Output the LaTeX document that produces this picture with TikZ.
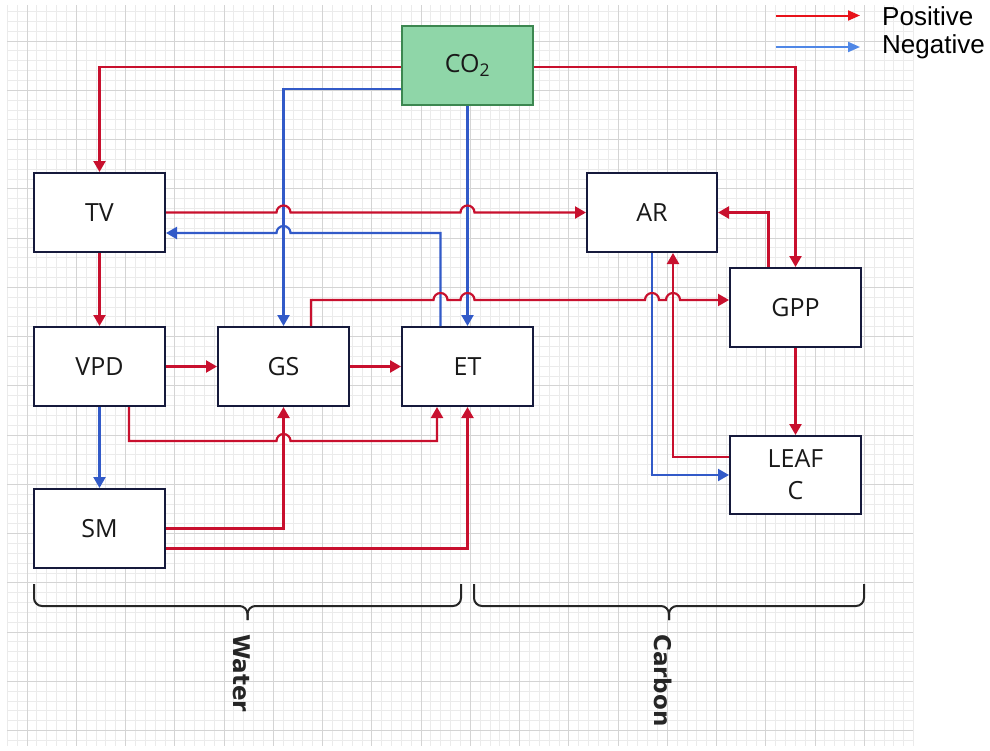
\documentclass[tikz,border=0pt]{standalone}
\usepackage{fontspec}
\setmainfont{Liberation Sans}
\newfontfamily\boxfont{Open Sans}
\newfontfamily\groupfont{DejaVu Sans}
\usetikzlibrary{arrows.meta,positioning}
\definecolor{posred}{RGB}{200,16,46}
\definecolor{negblue}{RGB}{50,90,200}
\definecolor{legred}{RGB}{232,18,26}
\definecolor{legblue}{RGB}{80,135,230}
\definecolor{co2green}{RGB}{143,214,168}
\definecolor{co2edge}{RGB}{60,135,80}
\definecolor{boxedge}{RGB}{22,26,60}
\definecolor{minorgrid}{RGB}{235,235,235}
\definecolor{majorgrid}{RGB}{212,212,212}

\begin{document}
\begin{tikzpicture}[x=1pt,y=-1pt,
    var/.style={draw=boxedge,line width=2pt,fill=white,minimum width=131pt,minimum height=79pt,
                align=center,font=\boxfont\fontsize{25}{32}\selectfont,text=black!90},
    poslink/.style={draw=posred,line width=2.2pt,-{Triangle[length=11pt,width=12pt]}},
    neglink/.style={draw=negblue,line width=2.2pt,-{Triangle[length=11pt,width=12pt]}},
    legpos/.style={draw=legred,line width=2pt,-{Triangle[length=12pt,width=10pt]}},
    legneg/.style={draw=legblue,line width=2pt,-{Triangle[length=12pt,width=10pt]}},
    legtext/.style={anchor=west,inner sep=1pt,font=\fontsize{26}{30}\selectfont},
    bracepath/.style={rounded corners=8pt,line width=2pt,draw=black!85},
    grouplabel/.style={rotate=-90,anchor=west,inner sep=0pt,
                       font=\groupfont\bfseries\fontsize{23}{26}\selectfont,text=black!85}]
  \useasboundingbox[fill=white] (0,0) rectangle (990,750);
  \foreach \i in {-2,...,90}
    \draw[minorgrid,line width=0.8pt] ({27+9.85*\i},5) -- ({27+9.85*\i},746);
  \foreach \j in {-3,...,71}
    \draw[minorgrid,line width=0.8pt] (7,{41+9.85*\j}) -- (913,{41+9.85*\j});
  \foreach \i in {0,5,...,85}
    \draw[majorgrid,line width=1pt] ({27+9.85*\i},5) -- ({27+9.85*\i},746);
  \foreach \j in {0,5,...,70}
    \draw[majorgrid,line width=1pt] (7,{41+9.85*\j}) -- (913,{41+9.85*\j});

  \node[var,fill=co2green,draw=co2edge] (co2) at (467.5,65) {CO\textsubscript{2}};
  \node[var] (tv) at (99.5,212.5) {TV};
  \node[var,below=73pt of tv] (vpd) {VPD};
  \node[var,right=51pt of vpd] (gs) {GS};
  \node[var,right=51pt of gs] (et) {ET};
  \node[var,below=81pt of vpd] (sm) {SM};
  \node[var,minimum width=130pt] (ar) at (652,212.5) {AR};
  \node[var] (gpp) at (795.5,307.5) {GPP};
  \node[var,minimum height=78pt,below=87pt of gpp] (leaf) {LEAF\\C};

  \draw[neglink] ([yshift=-24pt]co2.west) -| (gs.north);
  \draw[neglink] (co2.south) -- (et.north);
  \draw[neglink] ([xshift=-27pt]et.north) |- (290.5,233)
      arc[start angle=0,end angle=180,radius=7pt] -- ([yshift=-20.5pt]tv.east);
  \draw[neglink] (vpd.south) -- (sm.north);
  \draw[neglink] (ar.south) |- (leaf.west);

  \draw[poslink] ([yshift=-2pt]co2.west) -| (tv.north);
  \draw[poslink] ([yshift=-2pt]co2.east) -| (gpp.north);
  \draw[poslink] (tv.east) -- (276.5,212.5) arc[start angle=180,end angle=0,radius=7pt]
      -- (460.5,212.5) arc[start angle=180,end angle=0,radius=7pt] -- (ar.west);
  \draw[poslink] (tv.south) -- (vpd.north);
  \draw[poslink] (vpd.east) -- (gs.west);
  \draw[poslink] (gs.east) -- (et.west);
  \draw[poslink] ([xshift=29.5pt]vpd.south) |- (276.5,441)
      arc[start angle=180,end angle=0,radius=7pt] -| ([xshift=-30.5pt]et.south);
  \draw[poslink] (sm.east) -| (gs.south);
  \draw[poslink] ([yshift=-20pt]sm.east) -| (et.south);
  \draw[poslink] ([xshift=27.5pt]gs.north) |- (433.5,300)
      arc[start angle=180,end angle=0,radius=7pt] -- (460.5,300)
      arc[start angle=180,end angle=0,radius=7pt] -- (645,300)
      arc[start angle=180,end angle=0,radius=7pt] -- (666,300)
      arc[start angle=180,end angle=0,radius=7pt] -- ([yshift=7.5pt]gpp.west);
  \draw[poslink] ([xshift=-27pt]gpp.north) |- (ar.east);
  \draw[poslink] (gpp.south) -- (leaf.north);
  \draw[poslink] ([yshift=18pt]leaf.west) -| ([xshift=21pt]ar.south);

  \node[legtext] (postxt) at (881,16) {Positive};
  \node[legtext] (negtxt) at (881,47) {Negative};
  \coordinate (posfrom) at (776,15.5);
  \coordinate (negfrom) at (776,47);
  \draw[legpos,shorten >=21pt] (posfrom) -- (posfrom -| postxt.west);
  \draw[legneg,shorten >=21pt] (negfrom) -- (negfrom -| negtxt.west);

  \draw[bracepath] (34,584) -- (34,606) -- (247.5,606) -- (247.5,620);
  \draw[bracepath] (461,584) -- (461,606) -- (247.5,606) -- (247.5,620);
  \draw[bracepath] (474,584) -- (474,606) -- (669,606) -- (669,620);
  \draw[bracepath] (864,584) -- (864,606) -- (669,606) -- (669,620);
  \node[grouplabel] (water) at (242,634) {Water};
  \node[grouplabel] (carbon) at (663,634) {Carbon};
\end{tikzpicture}
\end{document}
